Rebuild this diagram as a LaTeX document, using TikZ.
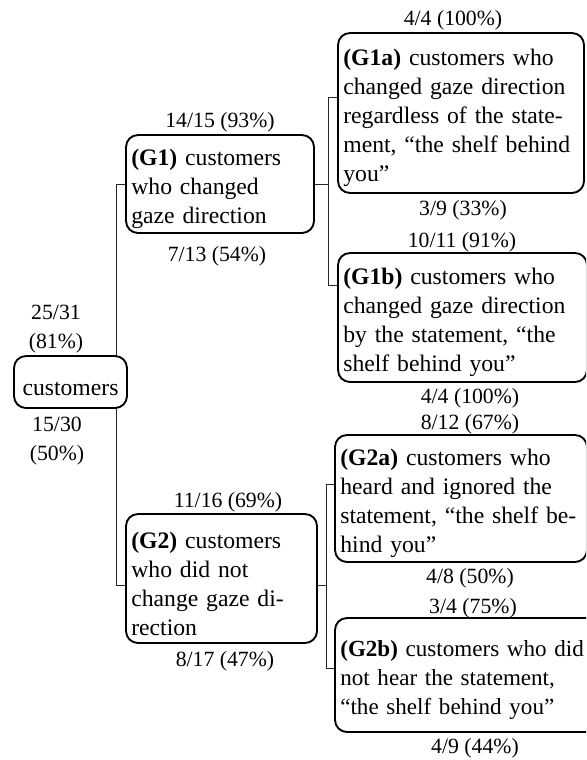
\documentclass[tikz,border=0pt]{standalone}
\usepackage{fontspec}
\setmainfont{Liberation Serif}
\usetikzlibrary{backgrounds}

\tikzset{
  txt/.style={font=\fontsize{17.75}{21.75}\selectfont},
  group/.style={txt, draw, line width=1.4pt, rounded corners=9pt, fill=white,
    align=left, inner xsep=4pt, inner ysep=0pt, minimum height=#1,
    execute at begin node=\rule{0pt}{20pt}},
  count/.style={font=\fontsize{16.3}{21.75}\selectfont, inner sep=0pt, align=center},
  link/.style={line width=0.6pt, black!85}
}

\begin{document}
\begin{tikzpicture}[x=0.75pt, y=-0.75pt]
  \useasboundingbox (0,0) rectangle (586,760);
  \clip (0,0) rectangle (586,760);

  % group boxes
  \node[group=39pt, align=center, text width=76.75pt] (cust) at (70.5,382) {customers};
  \node[group=73.5pt, text width=133pt] (g1) at (220,184)
    {\textbf{(G1)} customers\\ who changed\\ gaze direction};
  \node[group=96.75pt, text width=135.25pt] (g2) at (221.5,578.5)
    {\textbf{(G2)} customers\\ who did not\\ change gaze di-\\ rection};
  \node[group=120pt, text width=176.5pt] (g1a) at (461,113)
    {\textbf{(G1a)} customers who\\ changed gaze direction\\ regardless of the state-\\ ment, “the shelf behind\\ you”};
  \node[group=96.75pt, text width=178.75pt] (g1b) at (462.5,317.5)
    {\textbf{(G1b)} customers who\\ changed gaze direction\\ by the statement, “the\\ shelf behind you”};
  \node[group=95.25pt, text width=181pt] (g2a) at (461,498.5)
    {\textbf{(G2a)} customers who\\ heard and ignored the\\ statement, “the shelf be-\\ hind you”};
  \node[group=85.5pt, text width=202pt, font=\fontsize{17.3}{21.75}\selectfont] (g2b) at (475,675)
    {\textbf{(G2b)} customers who did\\ not hear the statement,\\ “the shelf behind you”};

  % tree joints
  \coordinate (t1) at (116,184);
  \coordinate (t2) at (116,585);
  \coordinate (j1) at (328,184);
  \coordinate (j1a) at (328,97);
  \coordinate (j1b) at (328,285);
  \coordinate (j2) at (326,585);
  \coordinate (j2a) at (326,484);
  \coordinate (j2b) at (326,668);

  \begin{pgfonlayer}{background}
    \draw[link] (t1 -| g1.west) -- (t1) -- (t2) -- (t2 -| g2.west);
    \draw[link] (g1.east) -- (j1);
    \draw[link] (j1a -| g1a.west) -- (j1a) -- (j1b) -- (j1b -| g1b.west);
    \draw[link] (g2.east |- j2) -- (j2);
    \draw[link] (j2a -| g2a.west) -- (j2a) -- (j2b) -- (j2b -| g2b.west);
  \end{pgfonlayer}

  % counts
  \node[count] (c0u) at (56,329) {25/31\\[0pt](81\%)};
  \node[count] (c0d) at (57,441) {15/30\\[0pt](50\%)};
  \node[count] (c1u) at (220,122) {14/15 (93\%)};
  \node[count] (c1d) at (217,256) {7/13 (54\%)};
  \node[count] (c2u) at (228,502) {11/16 (69\%)};
  \node[count] (c2d) at (225,661) {8/17 (47\%)};
  \node[count] (c1au) at (453,20) {4/4 (100\%)};
  \node[count] (c1ad) at (463,210) {3/9 (33\%)};
  \node[count] (c1bu) at (462,242) {10/11 (91\%)};
  \node[count] (c1bd) at (470,398) {4/4 (100\%)};
  \node[count] (c2au) at (470,424) {8/12 (67\%)};
  \node[count] (c2ad) at (470,578) {4/8 (50\%)};
  \node[count] (c2bu) at (473,608) {3/4 (75\%)};
  \node[count] (c2bd) at (475,748) {4/9 (44\%)};
\end{tikzpicture}
\end{document}
